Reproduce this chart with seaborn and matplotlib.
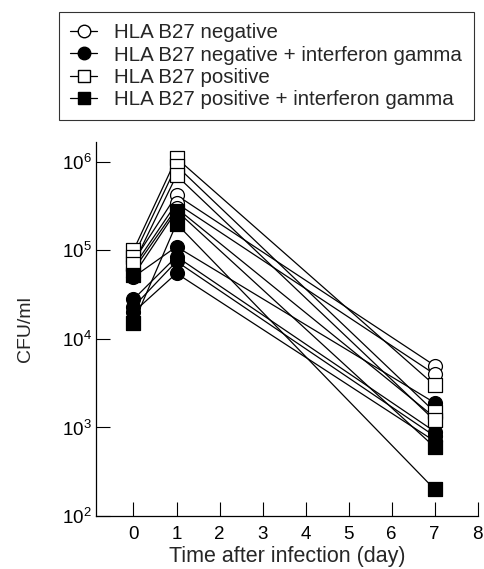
import numpy as np
import pandas as pd
import matplotlib
matplotlib.use("Agg")
import matplotlib.pyplot as plt
from matplotlib.lines import Line2D
import seaborn as sns

days = [0, 1, 7]
groups = ["HLA B27 negative",
          "HLA B27 negative + interferon gamma",
          "HLA B27 positive",
          "HLA B27 positive + interferon gamma"]

# per-subject CFU/ml at day 0, 1, 7
neg = [[7.5e4, 4.2e5, 5000], [6.5e4, 3.4e5, 4000], [6.0e4, 3.0e5, 1300]]
neg_ifn = [[5.0e4, 1.1e5, 1900], [2.8e4, 8.5e4, 900], [2.3e4, 7.5e4, 800], [2.0e4, 5.5e4, 700]]
pos = [[1.0e5, 1.1e6, 3000], [8.5e4, 9.0e5, 1500], [7.0e4, 7.0e5, 1200]]
pos_ifn = [[5.2e4, 2.8e5, 600], [1.5e4, 2.0e5, 200]]

all_groups = [neg, neg_ifn, pos, pos_ifn]
markers = ["o", "o", "s", "s"]
faces = ["white", "black", "white", "black"]

rows = []
sid = 0
for g, subj in zip(groups, all_groups):
    for vals in subj:
        for d, v in zip(days, vals):
            rows.append({"day": d, "cfu": v, "group": g, "subject": sid})
        sid += 1
df = pd.DataFrame(rows)

sns.set_style("ticks")
plt.rcParams["font.family"] = ["Liberation Sans", "DejaVu Sans"]
plt.rcParams["mathtext.fontset"] = "custom"
plt.rcParams["mathtext.rm"] = "Liberation Sans"
plt.rcParams["mathtext.it"] = "Liberation Sans:italic"

fig = plt.figure(figsize=(4.85, 5.69), dpi=100)
ax = fig.add_axes([0.198, 0.093, 0.787, 0.657])

sns.lineplot(data=df, x="day", y="cfu", units="subject", estimator=None,
             color="black", linewidth=0.9, ax=ax, legend=False, zorder=2)
for g, m, fc in zip(groups, markers, faces):
    sub = df[df["group"] == g]
    sns.scatterplot(data=sub, x="day", y="cfu", marker=m, s=100,
                    facecolor=fc, edgecolor="black", linewidth=0.9,
                    ax=ax, legend=False, zorder=3)

ax.set_yscale("log")
ax.set_ylim(100, 10 ** 6.22)
ax.set_xlim(-0.87, 8)
ax.set_xticks(range(0, 9))
ax.set_yticks([1e2, 1e3, 1e4, 1e5, 1e6])
ax.yaxis.set_minor_locator(matplotlib.ticker.NullLocator())
ax.tick_params(axis="both", direction="in", length=10, width=0.8,
               labelsize=13.5, colors="black")
ax.tick_params(axis="x", pad=7)
ax.tick_params(axis="y", pad=3)
for s in ["top", "right"]:
    ax.spines[s].set_visible(False)
for s in ["left", "bottom"]:
    ax.spines[s].set_linewidth(0.9)
    ax.spines[s].set_color("black")

ax.set_xlabel("Time after infection (day)", fontsize=15.5, labelpad=2.5)
ax.set_ylabel("CFU/ml", fontsize=14, labelpad=20)

handles = [Line2D([0], [0], color="black", linewidth=0.9, marker=m,
                  markerfacecolor=fc, markeredgecolor="black", markersize=9)
           for m, fc in zip(markers, faces)]
leg = fig.legend(handles, groups, loc="upper left",
                 bbox_to_anchor=(59 / 485, 1 - 12 / 569),
                 borderaxespad=0.0,
                 frameon=True, fontsize=14.8, handlelength=1.3,
                 handletextpad=0.85, labelspacing=0.16, borderpad=0.55,
                 fancybox=False, edgecolor="black")
leg.get_frame().set_linewidth(0.8)

fig.savefig("out.png", dpi=100)
